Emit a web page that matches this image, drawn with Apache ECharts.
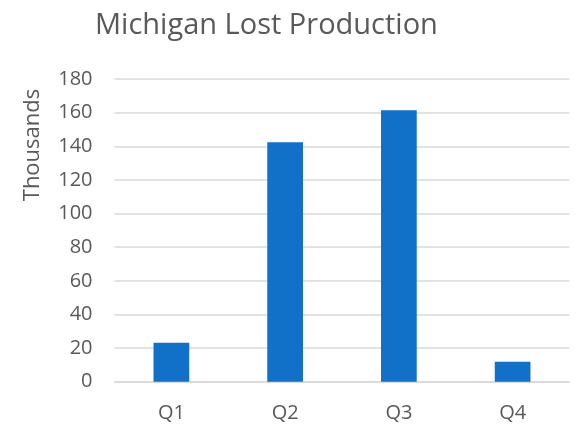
<!DOCTYPE html>
<html><head><meta charset="utf-8">
<script src="https://cdn.jsdelivr.net/npm/echarts@6/dist/echarts.min.js"></script>
<style>html,body{margin:0;padding:0;background:#fff}#c{width:577px;height:424px}</style>
</head><body><div id="c"></div>
<script>
const categories = ['Q1','Q2','Q3','Q4'];
const values = [23.2, 142.4, 161.4, 11.9];
const yTicks = {min:0, max:180, interval:20};
const titleText = 'Michigan Lost Production';
const yName = 'Thousands';

const chart = echarts.init(document.getElementById('c'), null, {renderer:'canvas'});
const font = 'Open Sans';
chart.setOption({
  animation:false,
  backgroundColor:'#fff',
  title:{text:titleText, left:90, top:6,
    textStyle:{fontFamily:font, fontSize:29, fontWeight:'normal', color:'#595959'}},
  grid:{left:114.5, right:7.5, top:79, bottom:42.3, containLabel:false},
  graphic:[{type:'text', x:33, y:145, rotation:Math.PI/2,
    style:{text:yName, fontFamily:font, fontSize:22, fill:'#595959', textAlign:'center', textVerticalAlign:'middle'}}],
  xAxis:{type:'category', data:categories,
    axisLine:{show:true, lineStyle:{color:'#d9d9d9', width:1.5}},
    axisTick:{show:false},
    axisLabel:{fontFamily:font, fontSize:20, color:'#595959', margin:22}},
  yAxis:{type:'value', min:yTicks.min, max:yTicks.max, interval:yTicks.interval,
    axisLine:{show:false}, axisTick:{show:false},
    splitLine:{lineStyle:{color:'#d9d9d9', width:1.5}},
    axisLabel:{fontFamily:font, fontSize:20, color:'#595959', margin:22}},
  series:[{type:'bar', data:values, barWidth:'31.4%',
    itemStyle:{color:'#1170c8'}}]
});
</script></body></html>
